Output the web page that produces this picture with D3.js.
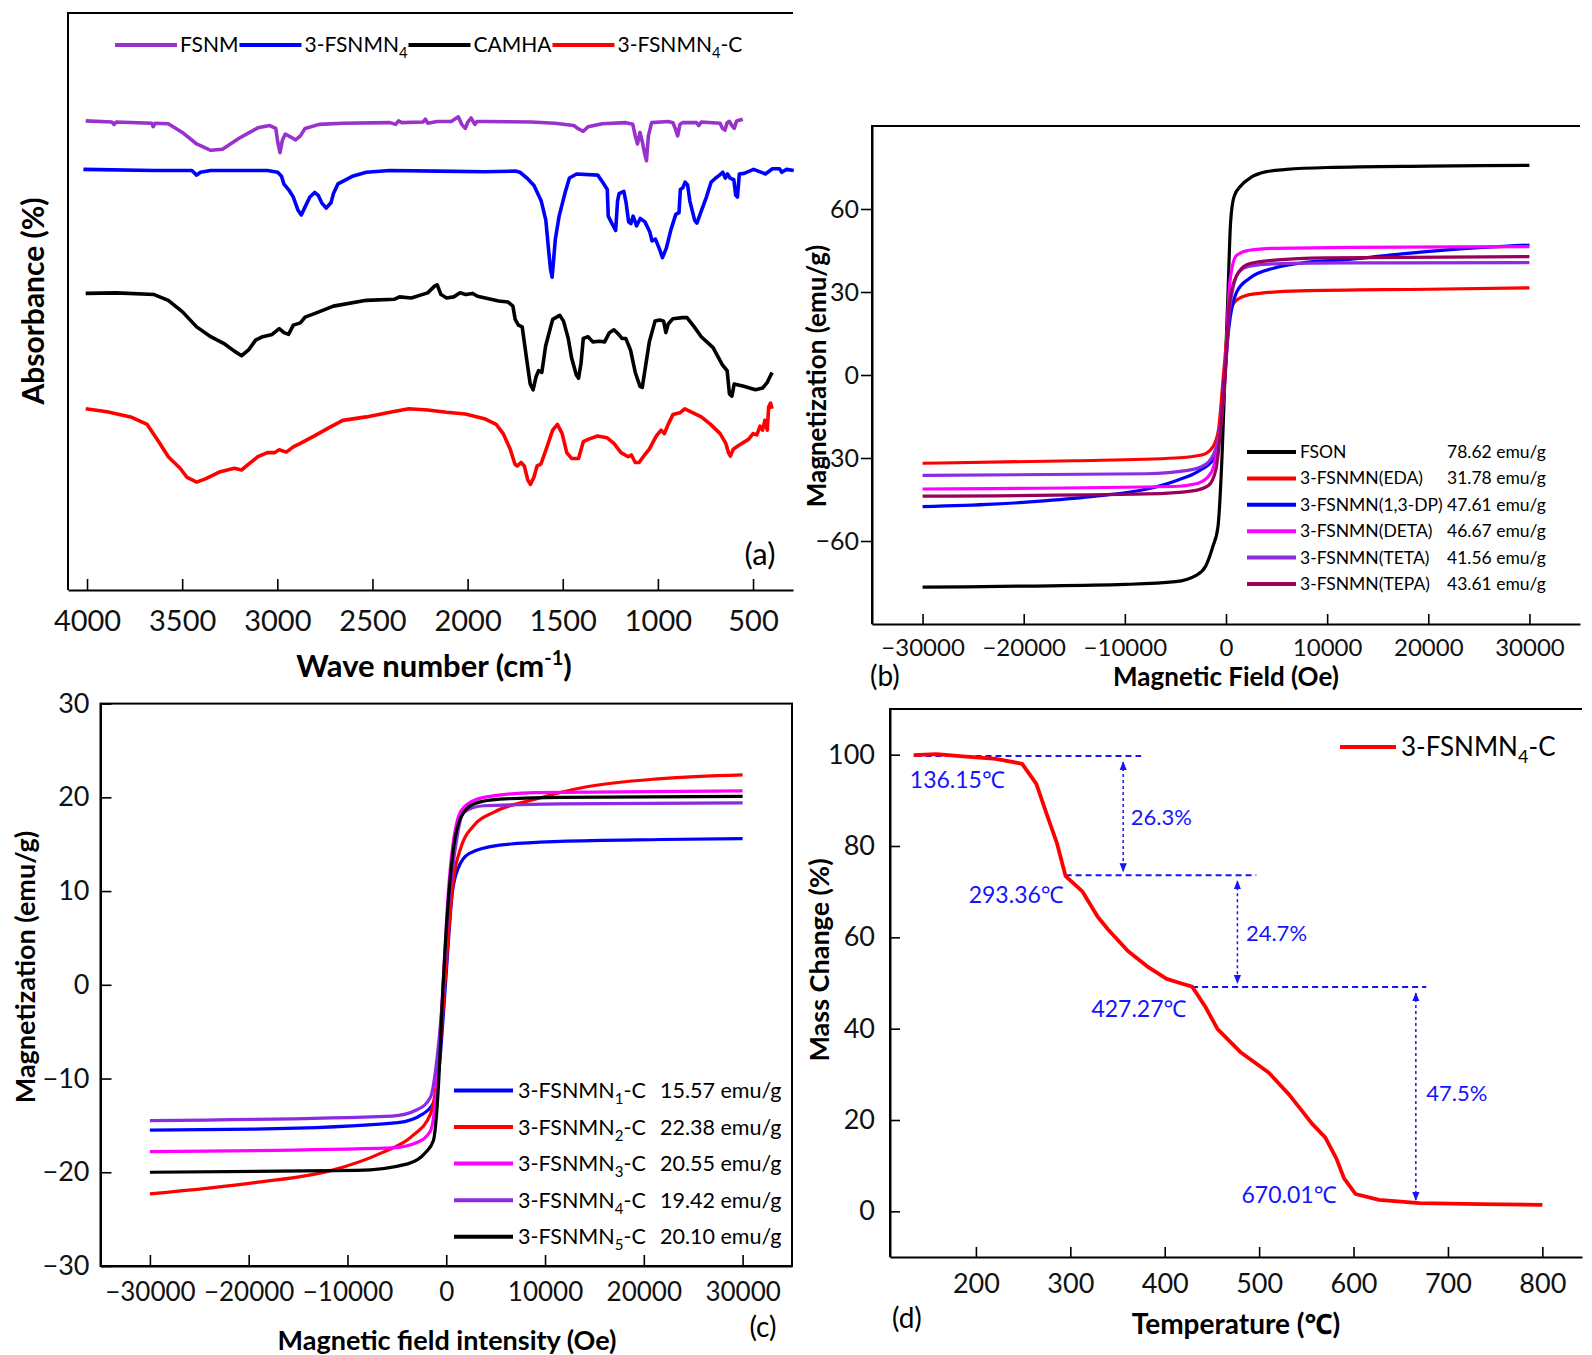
<!DOCTYPE html>
<html>
<head>
<meta charset="utf-8">
<script src="https://cdn.jsdelivr.net/npm/d3@7/dist/d3.min.js"></script>
<style>
  body { margin: 0; background: #fff; }
  text { font-family: Lato, "Noto Sans", sans-serif; }
</style>
</head>
<body>
<svg id="fig" width="1592" height="1355"></svg>
<script>
// ---------- data ----------
// (a) FTIR, [wavenumber cm-1, absorbance a.u. (stacked, 0-100)]
const ftirFSNM = [[4007,81.3],[3870,81.1],[3858,80.7],[3846,81.1],[3660,80.9],[3652,80.3],[3642,80.9],[3573,80.8],[3499,79.3],[3424,77.3],[3350,76.2],[3288,76.4],[3201,78.3],[3102,80.1],[3040,80.5],[3008,80.0],[2998,77.7],[2986,75.8],[2973,78.0],[2958,79.0],[2929,78.5],[2904,78.0],[2879,78.7],[2854,80.0],[2780,80.7],[2656,80.9],[2408,81.0],[2378,80.7],[2363,81.3],[2346,81.0],[2235,81.1],[2222,81.6],[2210,80.9],[2160,81.2],[2086,81.2],[2049,82.0],[2031,80.7],[2012,80.0],[1999,81.1],[1982,81.8],[1962,80.7],[1950,81.2],[1912,81.2],[1665,81.1],[1541,80.9],[1442,80.5],[1417,79.9],[1392,79.5],[1367,80.3],[1293,80.8],[1169,81.0],[1132,80.7],[1119,78.7],[1107,77.3],[1094,79.3],[1082,77.7],[1070,75.7],[1060,74.4],[1050,78.7],[1033,81.0],[946,81.2],[921,81.0],[909,80.0],[896,78.7],[884,80.7],[871,81.0],[797,81.0],[785,80.5],[772,81.1],[673,80.9],[661,80.0],[648,79.7],[636,81.0],[624,81.2],[611,80.5],[599,80.0],[586,81.3],[574,81.4],[554,81.6]];
const ftirN4 = [[4019,72.9],[3647,72.7],[3449,72.7],[3424,71.9],[3404,72.4],[3350,72.7],[3052,72.7],[2998,72.4],[2978,71.7],[2966,70.4],[2941,69.4],[2916,68.1],[2891,65.8],[2874,65.0],[2854,66.4],[2829,68.1],[2804,68.9],[2785,68.4],[2767,67.1],[2743,66.2],[2718,67.1],[2705,68.7],[2681,70.4],[2606,71.7],[2532,72.4],[2408,72.7],[2160,72.6],[1911,72.5],[1750,72.6],[1725,72.4],[1688,71.4],[1651,70.1],[1613,67.4],[1589,64.1],[1576,59.5],[1564,55.5],[1556,54.2],[1549,56.8],[1539,60.8],[1519,64.8],[1489,68.7],[1465,71.4],[1427,72.1],[1316,71.9],[1291,70.7],[1266,69.4],[1261,64.8],[1241,63.5],[1222,62.3],[1212,67.4],[1204,68.7],[1179,69.1],[1167,67.1],[1154,63.8],[1142,63.5],[1130,64.8],[1112,63.1],[1093,64.4],[1068,63.8],[1043,62.1],[1031,60.5],[1013,60.8],[993,59.2],[976,57.6],[956,59.2],[931,62.5],[906,65.1],[889,65.4],[882,69.4],[869,69.7],[857,70.7],[844,70.2],[832,67.4],[807,64.1],[795,63.6],[775,65.4],[745,68.1],[720,70.7],[696,71.4],[676,71.9],[659,72.4],[646,71.4],[634,72.1],[621,71.4],[601,71.1],[591,68.4],[582,68.1],[572,72.1],[547,72.2],[497,72.9],[473,72.6],[435,72.1],[398,73.0],[361,73.0],[349,72.4],[324,72.9],[286,72.7]];
const ftirCAMHA = [[4007,51.4],[3845,51.5],[3647,51.2],[3573,50.2],[3498,48.2],[3424,45.6],[3350,43.9],[3275,42.6],[3226,41.4],[3188,40.6],[3151,41.6],[3114,43.3],[3077,43.9],[3027,44.3],[2990,45.3],[2965,44.6],[2941,44.3],[2916,45.9],[2879,46.3],[2854,47.3],[2805,47.9],[2705,49.2],[2532,50.2],[2383,50.4],[2358,50.8],[2296,50.6],[2210,51.5],[2172,52.7],[2160,52.9],[2140,51.2],[2110,50.6],[2073,50.8],[2040,51.5],[2010,51.2],[1973,51.4],[1948,50.9],[1837,50.1],[1787,49.9],[1762,49.2],[1750,46.9],[1733,45.9],[1713,45.6],[1688,39.6],[1671,35.7],[1656,34.7],[1640,37.0],[1627,38.0],[1610,37.7],[1590,42.3],[1553,46.9],[1516,47.6],[1496,46.6],[1471,43.6],[1454,40.3],[1429,37.3],[1417,36.7],[1404,39.3],[1392,43.6],[1367,43.9],[1342,43.0],[1305,43.1],[1280,43.0],[1255,44.6],[1231,45.1],[1206,44.3],[1189,43.6],[1169,43.6],[1144,41.6],[1119,37.7],[1094,35.3],[1082,35.1],[1070,37.7],[1045,43.0],[1015,46.6],[990,46.8],[970,46.6],[958,44.6],[946,46.1],[921,47.0],[871,47.2],[847,47.2],[809,45.6],[772,43.9],[710,42.0],[661,39.0],[636,38.0],[624,34.0],[611,33.6],[599,35.7],[549,35.3],[487,34.7],[450,35.0],[425,36.0],[400,37.7]];
const ftirN4C = [[4007,31.4],[3895,30.9],[3771,30.0],[3684,28.7],[3623,25.7],[3573,23.1],[3511,21.1],[3474,19.5],[3424,18.7],[3375,19.3],[3300,20.5],[3226,21.1],[3188,20.8],[3151,21.8],[3102,23.1],[3052,23.8],[3015,23.8],[2990,24.3],[2953,23.9],[2916,24.8],[2879,25.4],[2805,26.7],[2730,28.1],[2656,29.4],[2532,30.0],[2408,30.8],[2309,31.4],[2210,31.2],[2111,30.8],[2012,30.5],[1912,29.7],[1850,28.7],[1813,27.1],[1776,24.4],[1751,21.8],[1739,21.5],[1719,22.1],[1702,21.5],[1684,19.1],[1670,18.3],[1652,19.5],[1635,21.5],[1615,21.8],[1590,24.1],[1553,27.7],[1528,28.7],[1503,27.1],[1479,23.8],[1454,22.8],[1417,22.8],[1392,25.7],[1367,26.1],[1317,26.7],[1268,26.4],[1231,25.4],[1194,23.8],[1156,23.1],[1139,23.4],[1119,22.1],[1099,22.1],[1070,23.4],[1045,24.4],[1008,26.7],[983,27.7],[966,27.1],[946,28.7],[921,30.4],[884,30.7],[859,31.4],[834,31.0],[772,30.0],[723,28.7],[673,27.1],[643,25.4],[629,23.8],[619,23.2],[604,24.4],[574,25.1],[524,26.1],[500,27.1],[480,26.9],[463,28.4],[450,27.7],[438,29.4],[425,27.7],[418,31.7],[408,32.4],[400,31.4]];
const ftirSeries = [ftirFSNM, ftirN4, ftirCAMHA, ftirN4C];
const ftirNames = ["FSNM", "3-FSNMN_4", "CAMHA", "3-FSNMN_4-C"];
const ftirColors = ["#9932cc", "#0000ff", "#000000", "#ff0000"];
const ftirTicks = [4000, 3500, 3000, 2500, 2000, 1500, 1000, 500];

// (b) VSM, [field Oe, magnetization emu/g]
const bFSON = [[-30000,-76.7],[-20000,-76.3],[-10000,-75.7],[-5000,-74.7],[-3000,-72.5],[-2000,-69],[-1300,-62],[-800,-55],[-400,-30],[-100,0],[200,30],[450,55],[800,64.5],[1500,68.5],[2500,71.5],[4000,73.5],[6000,74.3],[10000,75],[20000,75.5],[30000,75.8]];
const bEDA = [[-30000,-31.9],[-15000,-31],[-5000,-30],[-2300,-28.8],[-1300,-26],[-750,-20],[-250,0],[250,19.5],[750,25.9],[1800,28.5],[3300,29.5],[7300,30.4],[20000,31],[30000,31.5]];
const bDP = [[-30000,-47.6],[-23000,-46.7],[-18000,-45.5],[-12900,-43.8],[-7800,-41.2],[-4800,-38],[-2750,-34.8],[-1250,-30.4],[-500,-17.6],[-130,0],[280,17],[1030,29.8],[2300,34.9],[4800,38.7],[7300,40.4],[12400,41.9],[17400,43.8],[22500,45.4],[30000,47]];
const bDETA = [[-30000,-41.2],[-5300,-40.3],[-2750,-39.1],[-1500,-35.5],[-750,-24],[-100,0],[380,33.6],[1030,43.2],[2300,45.1],[4800,45.8],[12400,46.1],[30000,46.4]];
const bTETA = [[-30000,-36.3],[-7800,-35.7],[-3800,-34.5],[-2000,-32.3],[-1000,-26.5],[-330,-11],[-80,0],[380,24.6],[1300,37.4],[2300,39.3],[4800,40.2],[12400,40.5],[30000,40.6]];
const bTEPA = [[-30000,-43.8],[-7800,-43],[-3300,-41.9],[-1750,-40],[-1000,-34.2],[-480,-17.6],[-80,0],[380,27.2],[1300,37.4],[2300,40.2],[4800,41.5],[9900,42.3],[30000,42.8]];
const bSeries = [bFSON, bEDA, bDP, bDETA, bTETA, bTEPA];
const bNames = ["FSON", "3-FSNMN(EDA)", "3-FSNMN(1,3-DP)", "3-FSNMN(DETA)", "3-FSNMN(TETA)", "3-FSNMN(TEPA)"];
const bSat = ["78.62 emu/g", "31.78 emu/g", "47.61 emu/g", "46.67 emu/g", "41.56 emu/g", "43.61 emu/g"];
const bColors = ["#000000", "#ff0000", "#0000ff", "#ff00ff", "#8b2be2", "#990059"];
const bXTicks = [-30000, -20000, -10000, 0, 10000, 20000, 30000];
const bYTicks = [-60, -30, 0, 30, 60];

// (c) VSM of carbonised samples
const c1 = [[-30000,-15.5],[-19400,-15.4],[-4900,-14.7],[-2400,-13.8],[-1300,-12.6],[-700,-8.7],[-200,-1.8],[100,2.8],[600,9.7],[1200,12.4],[2300,14],[5400,14.9],[11500,15.3],[21800,15.5],[30000,15.6]];
const c2 = [[-30000,-22.3],[-19400,-21.1],[-11600,-19.8],[-6500,-17.9],[-3400,-16.1],[-1600,-13.8],[-800,-8.7],[-300,-2.3],[200,5.1],[700,11],[1500,14.7],[2800,17],[4800,18.4],[9000,19.8],[14100,21.1],[21800,22],[30000,22.4]];
const c3 = [[-30000,-17.8],[-5500,-17.4],[-2900,-16.8],[-1600,-15.6],[-800,-8.7],[-300,0.5],[200,9.7],[1000,17],[1750,18.9],[3800,20],[9000,20.5],[30000,20.7]];
const c4 = [[-30000,-14.5],[-5500,-14],[-2900,-13.3],[-1600,-12],[-930,-7.8],[-400,-1.8],[100,6.9],[880,14.3],[1750,18.4],[3800,19.1],[11500,19.3],[30000,19.4]];
const c5 = [[-30000,-20],[-9000,-19.8],[-3900,-19.1],[-2100,-17.9],[-1300,-16.6],[-800,-11],[-400,-1.8],[100,7.4],[700,14.3],[1500,17.9],[2800,19.3],[5400,19.8],[11500,20],[30000,20.1]];
const cSeries = [c1, c2, c3, c4, c5];
const cNames = ["3-FSNMN_1-C", "3-FSNMN_2-C", "3-FSNMN_3-C", "3-FSNMN_4-C", "3-FSNMN_5-C"];
const cSat = ["15.57 emu/g", "22.38 emu/g", "20.55 emu/g", "19.42 emu/g", "20.10 emu/g"];
const cColors = ["#0000ff", "#ff0000", "#ff00ff", "#8b2be2", "#000000"];
const cXTicks = [-30000, -20000, -10000, 0, 10000, 20000, 30000];
const cYTicks = [-30, -20, -10, 0, 10, 20, 30];

// (d) TGA, [temperature C, mass %]
const tga = [[134,99.9],[158,100.1],[183,99.7],[221,99.1],[249,98.0],[264,93.6],[275,87],[286,80.5],[295,73.4],[313,70],[329,64.5],[340,61.7],[361,57],[383,53.4],[402,50.9],[416,50],[429,49.2],[443,44.8],[456,39.9],[480,34.9],[510,30.4],[532,25.5],[556,19.2],[570,16.2],[582,11.5],[590,7.2],[602,3.8],[627,2.5],[670,1.8],[735,1.6],[800,1.4]];
const stepLevel = [99.7, 73.6, 49.1];           // dashed guide levels (%)
const stepFrom = [136, 295, 429];               // guide start (C)
const stepTo = [375, 497, 677];                 // guide end (C)
const arrowT = [356, 477, 666];                 // double arrows (C)
const arrowTop = [99.7, 73.6, 49.1];
const arrowBottom = [73.6, 49.1, 1.6];
const lossText = ["26.3%", "24.7%", "47.5%"];
const lossT = [364, 486, 677];
const lossM = [84.5, 59.2, 24.2];
const tempText = ["136.15℃", "293.36℃", "427.27℃", "670.01℃"];
const tempT = [130, 293, 423, 582];
const tempM = [92.8, 67.5, 42.6, 1.9];
const tempAnchor = ["start", "end", "end", "end"];
const dXTicks = [200, 300, 400, 500, 600, 700, 800];
const dYTicks = [0, 20, 40, 60, 80, 100];

// ---------- helpers ----------
const svg = d3.select("#fig");
svg.append("rect").attr("width", 1592).attr("height", 1355).attr("fill", "#fff");

function styleAxis(g, fs) {
  g.attr("font-family", "Lato, sans-serif").attr("font-size", fs);
  g.select(".domain").attr("stroke-width", 2);
  g.selectAll(".tick line").attr("stroke-width", 1.6);
  g.selectAll(".tick text").attr("fill", "#111");
}

// "3-FSNMN_4-C" -> subscript 4
function richText(t, str, fs) {
  const parts = str.split("_");
  t.append("tspan").text(parts[0]);
  if (parts.length > 1) {
    t.append("tspan").attr("font-size", fs * 0.7).attr("dy", fs * 0.28).text(parts[1][0]);
    if (parts[1].length > 1) t.append("tspan").attr("dy", -fs * 0.28).text(parts[1].slice(1));
  }
}

function frameLine(g, d) {
  g.append("path").attr("d", d).attr("fill", "none").attr("stroke", "#000").attr("stroke-width", 2);
}

// ---------- (a) FTIR ----------
const ax = d3.scaleLinear().domain([4100, 290]).range([68, 793]);
const ay = d3.scaleLinear().domain([0, 100]).range([590, 13]);
const gA = svg.append("g");
frameLine(gA, `M${ax.range()[0]},${ay.range()[0]}V${ay.range()[1]}H${ax.range()[1]}`);
const aAxis = gA.append("g").attr("transform", `translate(0,${ay(0)})`)
  .call(d3.axisBottom(ax).tickValues(ftirTicks).tickFormat(d3.format("d")).tickSizeInner(-11).tickSizeOuter(0).tickPadding(20));
styleAxis(aAxis, 29);

const lineA = d3.line().x(d => ax(d[0])).y(d => ay(d[1]));
ftirSeries.forEach((s, i) => {
  gA.append("path").datum(s).attr("d", lineA)
    .attr("fill", "none").attr("stroke", ftirColors[i]).attr("stroke-width", 3.6)
    .attr("stroke-linejoin", "round");
});

// legend across the top
let lx = 115;
ftirNames.forEach((n, i) => {
  gA.append("line").attr("x1", lx).attr("x2", lx + 62).attr("y1", 45).attr("y2", 45)
    .attr("stroke", ftirColors[i]).attr("stroke-width", 4);
  const t = gA.append("text").attr("x", lx + 65).attr("y", 52).attr("font-size", 21);
  richText(t, n, 21);
  lx = lx + 65 + t.node().getComputedTextLength() + 1;
});

gA.append("text").attr("transform", "translate(44,301) rotate(-90)")
  .attr("text-anchor", "middle").attr("font-size", 30).attr("font-weight", 700).text("Absorbance (%)");
const aTitle = gA.append("text").attr("x", 434).attr("y", 677).attr("text-anchor", "middle")
  .attr("font-size", 31).attr("font-weight", 700);
aTitle.append("tspan").text("Wave number (cm");
aTitle.append("tspan").attr("font-size", 20).attr("dy", -12).text("-1");
aTitle.append("tspan").attr("dy", 12).text(")");
gA.append("text").attr("x", 760).attr("y", 565).attr("text-anchor", "middle").attr("font-size", 31).text("(a)");

// ---------- (b) VSM ----------
const bx = d3.scaleLinear().domain([-35000, 35000]).range([872, 1580]);
const by = d3.scaleLinear().domain([-90, 90]).range([624, 126]);
const gB = svg.append("g");
frameLine(gB, `M${bx.range()[0]},${by.range()[0]}V${by.range()[1]}H${bx.range()[1]}`);
const bxAxis = gB.append("g").attr("transform", `translate(0,${by.range()[0]})`)
  .call(d3.axisBottom(bx).tickValues(bXTicks).tickFormat(d3.format("d")).tickSizeInner(-10).tickSizeOuter(0).tickPadding(15));
styleAxis(bxAxis, 24);
const byAxis = gB.append("g").attr("transform", `translate(${bx.range()[0]},0)`)
  .call(d3.axisLeft(by).tickValues(bYTicks).tickSizeInner(11).tickSizeOuter(0).tickPadding(2));
styleAxis(byAxis, 25);

const lineB = d3.line().x(d => bx(d[0])).y(d => by(d[1])).curve(d3.curveMonotoneX);
bSeries.forEach((s, i) => {
  gB.append("path").datum(s).attr("d", lineB)
    .attr("fill", "none").attr("stroke", bColors[i]).attr("stroke-width", 3.2);
});
bNames.forEach((n, i) => {
  const y = 452 + i * 26.4;
  gB.append("line").attr("x1", 1247).attr("x2", 1296).attr("y1", y).attr("y2", y)
    .attr("stroke", bColors[i]).attr("stroke-width", 4);
  gB.append("text").attr("x", 1300).attr("y", y + 6).attr("font-size", 17.5).text(n);
  gB.append("text").attr("x", 1447).attr("y", y + 6).attr("font-size", 17.5).text(bSat[i]);
});
gB.append("text").attr("transform", "translate(826,376) rotate(-90)")
  .attr("text-anchor", "middle").attr("font-size", 26).attr("font-weight", 700).text("Magnetization (emu/g)");
gB.append("text").attr("x", 1226).attr("y", 686).attr("text-anchor", "middle")
  .attr("font-size", 26).attr("font-weight", 700).text("Magnetic Field (Oe)");
gB.append("text").attr("x", 870).attr("y", 686).attr("font-size", 28).text("(b)");

// ---------- (c) VSM carbonised ----------
const cx = d3.scaleLinear().domain([-35000, 35000]).range([100.5, 792]);
const cy = d3.scaleLinear().domain([-30, 30]).range([1266, 703.6]);
const gC = svg.append("g");
gC.append("rect").attr("x", cx.range()[0]).attr("y", cy.range()[1])
  .attr("width", cx.range()[1] - cx.range()[0]).attr("height", cy.range()[0] - cy.range()[1])
  .attr("fill", "none").attr("stroke", "#000").attr("stroke-width", 2);
const cxAxis = gC.append("g").attr("transform", `translate(0,${cy.range()[0]})`)
  .call(d3.axisBottom(cx).tickValues(cXTicks).tickFormat(d3.format("d")).tickSizeInner(-11).tickSizeOuter(0).tickPadding(17));
styleAxis(cxAxis, 26);
const cyAxis = gC.append("g").attr("transform", `translate(${cx.range()[0]},0)`)
  .call(d3.axisLeft(cy).tickValues(cYTicks).tickSizeInner(-11).tickSizeOuter(0).tickPadding(11));
styleAxis(cyAxis, 27);

const lineC = d3.line().x(d => cx(d[0])).y(d => cy(d[1])).curve(d3.curveMonotoneX);
cSeries.forEach((s, i) => {
  gC.append("path").datum(s).attr("d", lineC)
    .attr("fill", "none").attr("stroke", cColors[i]).attr("stroke-width", 3.2);
});
cNames.forEach((n, i) => {
  const y = 1090.4 + i * 36.6;
  gC.append("line").attr("x1", 454).attr("x2", 513).attr("y1", y).attr("y2", y)
    .attr("stroke", cColors[i]).attr("stroke-width", 4);
  const t = gC.append("text").attr("x", 518).attr("y", y + 7.5).attr("font-size", 21.5);
  richText(t, n, 21.5);
  gC.append("text").attr("x", 660).attr("y", y + 7.5).attr("font-size", 21.5).text(cSat[i]);
});
gC.append("text").attr("transform", "translate(35,967) rotate(-90)")
  .attr("text-anchor", "middle").attr("font-size", 27).attr("font-weight", 700).text("Magnetization (emu/g)");
gC.append("text").attr("x", 447).attr("y", 1350).attr("text-anchor", "middle")
  .attr("font-size", 27).attr("font-weight", 700).text("Magnetic field intensity (Oe)");
gC.append("text").attr("x", 763).attr("y", 1337).attr("text-anchor", "middle").attr("font-size", 28).text("(c)");

// ---------- (d) TGA ----------
const dx = d3.scaleLinear().domain([109, 842]).range([890, 1582]);
const dy = d3.scaleLinear().domain([-10, 110]).range([1257, 709]);
const gD = svg.append("g");
frameLine(gD, `M${dx.range()[0]},${dy.range()[0]}V${dy.range()[1]}H${dx.range()[1]}`);
const dxAxis = gD.append("g").attr("transform", `translate(0,${dy.range()[0]})`)
  .call(d3.axisBottom(dx).tickValues(dXTicks).tickSizeInner(-10).tickSizeOuter(0).tickPadding(17));
styleAxis(dxAxis, 27);
const dyAxis = gD.append("g").attr("transform", `translate(${dx.range()[0]},0)`)
  .call(d3.axisLeft(dy).tickValues(dYTicks).tickSizeInner(-10).tickSizeOuter(0).tickPadding(15));
styleAxis(dyAxis, 27);

const blue = "#1414ff";
svg.append("defs").append("marker").attr("id", "arr")
  .attr("viewBox", "0 0 10 10").attr("refX", 9).attr("refY", 5)
  .attr("markerWidth", 9).attr("markerHeight", 9).attr("markerUnits", "userSpaceOnUse")
  .attr("orient", "auto-start-reverse")
  .append("path").attr("d", "M0,1 L10,5 L0,9 Z").attr("fill", blue);

stepLevel.forEach((lv, i) => {
  gD.append("line").attr("x1", dx(stepFrom[i])).attr("x2", dx(stepTo[i]))
    .attr("y1", dy(lv)).attr("y2", dy(lv))
    .attr("stroke", blue).attr("stroke-width", 2).attr("stroke-dasharray", "6,4");
  gD.append("line").attr("x1", dx(arrowT[i])).attr("x2", dx(arrowT[i]))
    .attr("y1", dy(arrowTop[i]) + 6).attr("y2", dy(arrowBottom[i]) - 4)
    .attr("stroke", blue).attr("stroke-width", 1.5).attr("stroke-dasharray", "3,3")
    .attr("marker-start", "url(#arr)").attr("marker-end", "url(#arr)");
  gD.append("text").attr("x", dx(lossT[i])).attr("y", dy(lossM[i]))
    .attr("font-size", 22).attr("fill", blue).text(lossText[i]);
});
tempText.forEach((s, i) => {
  gD.append("text").attr("x", dx(tempT[i])).attr("y", dy(tempM[i]))
    .attr("text-anchor", tempAnchor[i]).attr("font-size", 23).attr("fill", blue).text(s);
});

const lineD = d3.line().x(d => dx(d[0])).y(d => dy(d[1]));
gD.append("path").datum(tga).attr("d", lineD)
  .attr("fill", "none").attr("stroke", "#ff0000").attr("stroke-width", 3.8).attr("stroke-linejoin", "round");

gD.append("line").attr("x1", 1340).attr("x2", 1396).attr("y1", 747).attr("y2", 747)
  .attr("stroke", "#ff0000").attr("stroke-width", 4);
richText(gD.append("text").attr("x", 1401).attr("y", 756).attr("font-size", 26), "3-FSNMN_4-C", 26);

gD.append("text").attr("transform", "translate(829,960) rotate(-90)")
  .attr("text-anchor", "middle").attr("font-size", 27).attr("font-weight", 700).text("Mass Change (%)");
gD.append("text").attr("x", 1236).attr("y", 1334).attr("text-anchor", "middle")
  .attr("font-size", 28).attr("font-weight", 700).text("Temperature (℃)");
gD.append("text").attr("x", 892).attr("y", 1328).attr("font-size", 28).text("(d)");
</script>
</body>
</html>
